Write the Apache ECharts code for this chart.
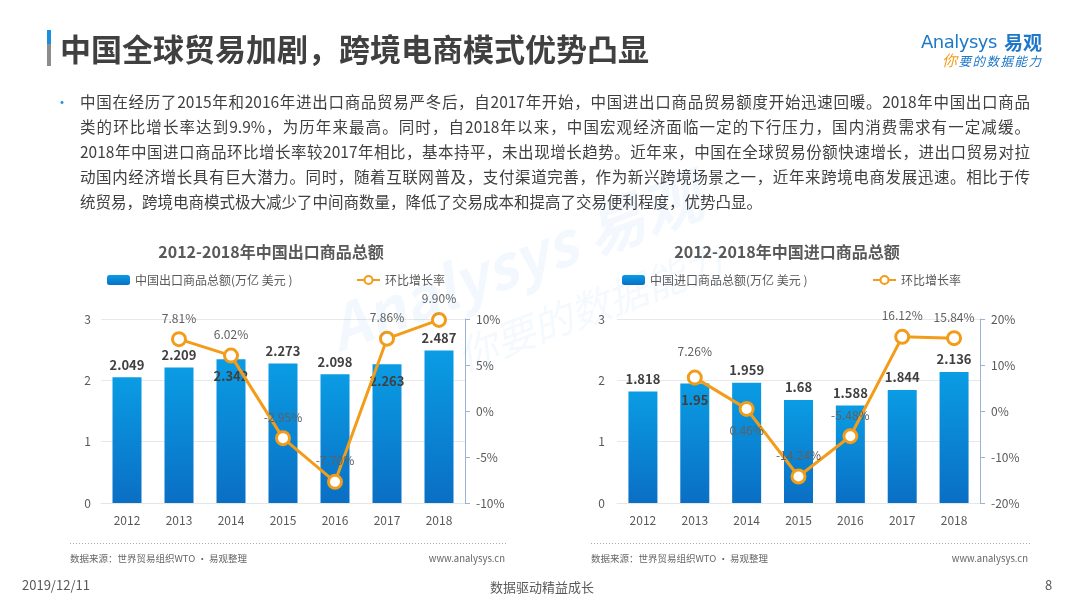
<!DOCTYPE html>
<html>
<head>
<meta charset="utf-8">
<script src="https://cdn.jsdelivr.net/npm/echarts/dist/echarts.min.js"></script>
<style>
html,body{margin:0;padding:0;background:#fff;}
#wrap{position:relative;width:1080px;height:608px;overflow:hidden;font-family:"Noto Sans CJK SC","Noto Sans",sans-serif;color:#404040;}
#chart{position:absolute;left:0;top:0;width:1080px;height:608px;}
.abs{position:absolute;white-space:nowrap;}
#titlebar{position:absolute;left:47px;top:30px;width:4px;height:36px;background:linear-gradient(#1a8fe0 0,#1a8fe0 38%,#8c8c8c 38%,#8c8c8c 100%);}
#title{left:60px;top:27px;font-size:31px;font-weight:bold;line-height:42px;color:#404040;}
#logo1{left:921px;top:30px;font-size:18px;color:#1e78c8;font-family:"DejaVu Sans",sans-serif;letter-spacing:-0.5px;line-height:24px;}
#logo2{left:1004px;top:29px;font-size:19px;font-weight:bold;color:#1e78c8;line-height:26px;}
#logo3{left:942px;top:51px;font-size:12.5px;color:#1e78c8;font-style:italic;line-height:18px;letter-spacing:1.5px;}
#logo3 b{color:#f39c19;font-weight:normal;font-size:15px;}
#bullet{left:55px;top:89px;font-size:14px;color:#1a8fe0;line-height:25px;}
.para{position:absolute;left:80px;width:950px;font-size:15.5px;line-height:25px;white-space:nowrap;text-align:justify;text-align-last:justify;color:#404040;}
.para.last{text-align-last:left;}
.foot{font-size:13px;color:#595959;line-height:18px;}
</style>
</head>
<body>
<div id="wrap">
  <div id="chart"></div>
  <div id="titlebar"></div>
  <div class="abs" id="title">中国全球贸易加剧，跨境电商模式优势凸显</div>
  <div class="abs" id="logo1">Analysys</div>
  <div class="abs" id="logo2">易观</div>
  <div class="abs" id="logo3"><b>你</b>要的数据能力</div>
  <div class="abs" id="bullet">•</div>
  <div id="paraBox"></div>
  <div class="abs foot" style="left:22px;top:576px;">2019/12/11</div>
  <div class="abs foot" style="left:490px;top:578px;">数据驱动精益成长</div>
  <div class="abs foot" style="left:1045px;top:576px;">8</div>
</div>
<script>
// ---------- data ----------
const years = ['2012', '2013', '2014', '2015', '2016', '2017', '2018'];
const exportValues = [2.049, 2.209, 2.342, 2.273, 2.098, 2.263, 2.487];
const exportGrowth = [null, 7.81, 6.02, -2.95, -7.70, 7.86, 9.90];
const importValues = [1.818, 1.95, 1.959, 1.68, 1.588, 1.844, 2.136];
const importGrowth = [null, 7.26, 0.46, -14.24, -5.48, 16.12, 15.84];
const exportInsideLabels = ['2014', '2017'];
const importInsideLabels = ['2013'];
const importBelowLabels = ['2014'];
const importRaisedLabels = ['2013'];
const exportTitle = '2012-2018年中国出口商品总额';
const importTitle = '2012-2018年中国进口商品总额';
const exportBarName = '中国出口商品总额(万亿 美元 )';
const importBarName = '中国进口商品总额(万亿 美元 )';
const growthName = '环比增长率';
const sourceText = '数据来源：世界贸易组织WTO · 易观整理';
const siteText = 'www.analysys.cn';
const paragraphLines = [
  '中国在经历了2015年和2016年进出口商品贸易严冬后，自2017年开始，中国进出口商品贸易额度开始迅速回暖。2018年中国出口商品',
  '类的环比增长率达到9.9%，为历年来最高。同时，自2018年以来，中国宏观经济面临一定的下行压力，国内消费需求有一定减缓。',
  '2018年中国进口商品环比增长率较2017年相比，基本持平，未出现增长趋势。近年来，中国在全球贸易份额快速增长，进出口贸易对拉',
  '动国内经济增长具有巨大潜力。同时，随着互联网普及，支付渠道完善，作为新兴跨境场景之一，近年来跨境电商发展迅速。相比于传',
  '统贸易，跨境电商模式极大减少了中间商数量，降低了交易成本和提高了交易便利程度，优势凸显。'
];

// paragraph
const box = document.getElementById('paraBox');
paragraphLines.forEach((t, i) => {
  const d = document.createElement('div');
  d.className = 'para' + (i === paragraphLines.length - 1 ? ' last' : '');
  d.style.top = (89 + i * 25) + 'px';
  d.textContent = t;
  box.appendChild(d);
});

// ---------- chart ----------
const FONT = '"Noto Sans CJK SC","Noto Sans",sans-serif';
const ORANGE = '#f39c19';
const barGradient = new echarts.graphic.LinearGradient(0, 0, 0, 1, [
  {offset: 0, color: '#0a9ce4'},
  {offset: 1, color: '#0a6fc4'}
]);

function barData(values, insideList) {
  return values.map((v, i) => {
    const item = {value: v};
    if (insideList.includes(years[i])) {
      item.label = {position: 'insideTop', distance: 10};
    }
    return item;
  });
}
function lineData(values, belowList, raisedList) {
  return values.map((v, i) => {
    const item = {value: v};
    if (belowList.includes(years[i])) {
      item.label = {position: 'bottom', distance: 8};
    } else if (raisedList.includes(years[i])) {
      item.label = {position: 'top', distance: 12};
    }
    return item;
  });
}

const axisLabelStyle = {color: '#595959', fontSize: 12, fontFamily: FONT};

function xAxis(gi) {
  return {
    type: 'category', gridIndex: gi, data: years,
    axisLine: {show: true, lineStyle: {color: '#e6e6e6'}},
    axisTick: {show: false},
    axisLabel: Object.assign({margin: 11}, axisLabelStyle)
  };
}
function leftAxis(gi, margin) {
  return {
    type: 'value', gridIndex: gi, min: 0, max: 3, interval: 1,
    axisLine: {show: false}, axisTick: {show: false},
    splitLine: {lineStyle: {color: '#e8e8e8'}},
    axisLabel: Object.assign({margin: margin}, axisLabelStyle)
  };
}
function rightAxis(gi, mn, mx, step) {
  return {
    type: 'value', gridIndex: gi, position: 'right', min: mn, max: mx, interval: step,
    axisLine: {show: true, lineStyle: {color: '#9db3d4', width: 1}},
    axisTick: {show: true, length: 5, lineStyle: {color: '#9db3d4'}},
    splitLine: {show: false},
    axisLabel: Object.assign({margin: 11, formatter: '{value}%'}, axisLabelStyle)
  };
}
function barSeries(name, xi, yi, values, inside) {
  return {
    name: name, type: 'bar', xAxisIndex: xi, yAxisIndex: yi,
    data: barData(values, inside), barWidth: 29,
    itemStyle: {color: barGradient},
    label: {show: true, position: 'top', distance: 6, color: '#404040', fontSize: 13, fontWeight: 'bold', fontFamily: FONT},
    z: 2
  };
}
function lineSeries(xi, yi, values, below, raised) {
  return {
    name: growthName, type: 'line', xAxisIndex: xi, yAxisIndex: yi,
    data: lineData(values, below, raised),
    symbol: 'circle', symbolSize: 13,
    lineStyle: {color: ORANGE, width: 3},
    itemStyle: {color: '#fff', borderColor: ORANGE, borderWidth: 3},
    label: {show: true, position: 'top', distance: 7, color: '#606060', fontSize: 12, fontFamily: FONT,
      formatter: p => p.value.toFixed(2) + '%'},
    z: 3
  };
}
function legend(name, left) {
  return {
    data: [name], left: left, top: 274, itemWidth: 23, itemHeight: 10, itemGap: 0,
    selectedMode: false,
    textStyle: {color: '#595959', fontSize: 12, fontFamily: FONT}, padding: 0
  };
}
function text(x, y, t, opts) {
  return {type: 'text', x: x, y: y, silent: true,
    style: Object.assign({text: t, fill: '#666', fontSize: 9.5, fontFamily: FONT, textVerticalAlign: 'middle'}, opts || {})};
}

const chart = echarts.init(document.getElementById('chart'), null, {renderer: 'canvas'});
chart.setOption({
  animation: false,
  backgroundColor: 'transparent',
  grid: [
    {left: 101, right: 1080 - 465, top: 319, bottom: 608 - 503},
    {left: 617, right: 1080 - 980, top: 319, bottom: 608 - 503}
  ],
  legend: [
    legend(exportBarName, 107),
    legend(growthName, 356),
    legend(importBarName, 622),
    legend(growthName, 872)
  ],
  xAxis: [xAxis(0), xAxis(1)],
  yAxis: [leftAxis(0, 10), rightAxis(0, -10, 10, 5), leftAxis(1, 12), rightAxis(1, -20, 20, 10)],
  series: [
    barSeries(exportBarName, 0, 0, exportValues, exportInsideLabels),
    lineSeries(0, 1, exportGrowth, [], []),
    barSeries(importBarName, 1, 2, importValues, importInsideLabels),
    lineSeries(1, 3, importGrowth, importBelowLabels, importRaisedLabels)
  ],
  graphic: [
    text(271, 252, exportTitle, {fill: '#595959', fontSize: 16, fontWeight: 'bold', textAlign: 'center'}),
    text(787, 252, importTitle, {fill: '#595959', fontSize: 16, fontWeight: 'bold', textAlign: 'center'}),
    {type: 'line', silent: true, shape: {x1: 70, y1: 543.5, x2: 506, y2: 543.5}, style: {stroke: '#aaa', lineWidth: 1, lineDash: [1, 2]}},
    {type: 'line', silent: true, shape: {x1: 591, y1: 543.5, x2: 1030, y2: 543.5}, style: {stroke: '#aaa', lineWidth: 1, lineDash: [1, 2]}},
    text(70, 558, sourceText),
    text(505, 558, siteText, {textAlign: 'right'}),
    text(591, 558, sourceText),
    text(1028, 558, siteText, {textAlign: 'right'}),
    {type: 'text', x: 515, y: 262, rotation: 0.36, silent: true, z: 100,
      style: {text: 'Analysys 易观', fill: 'rgba(20,130,210,0.055)', fontSize: 60, fontWeight: 'bold', fontStyle: 'italic',
        fontFamily: FONT, textAlign: 'center', textVerticalAlign: 'middle'}},
    {type: 'text', x: 590, y: 308, rotation: 0.36, silent: true, z: 100,
      style: {text: '你要的数据能力', fill: 'rgba(20,130,210,0.05)', fontSize: 40, fontStyle: 'italic',
        fontFamily: FONT, textAlign: 'center', textVerticalAlign: 'middle'}}
  ]
});
</script>
</body>
</html>
